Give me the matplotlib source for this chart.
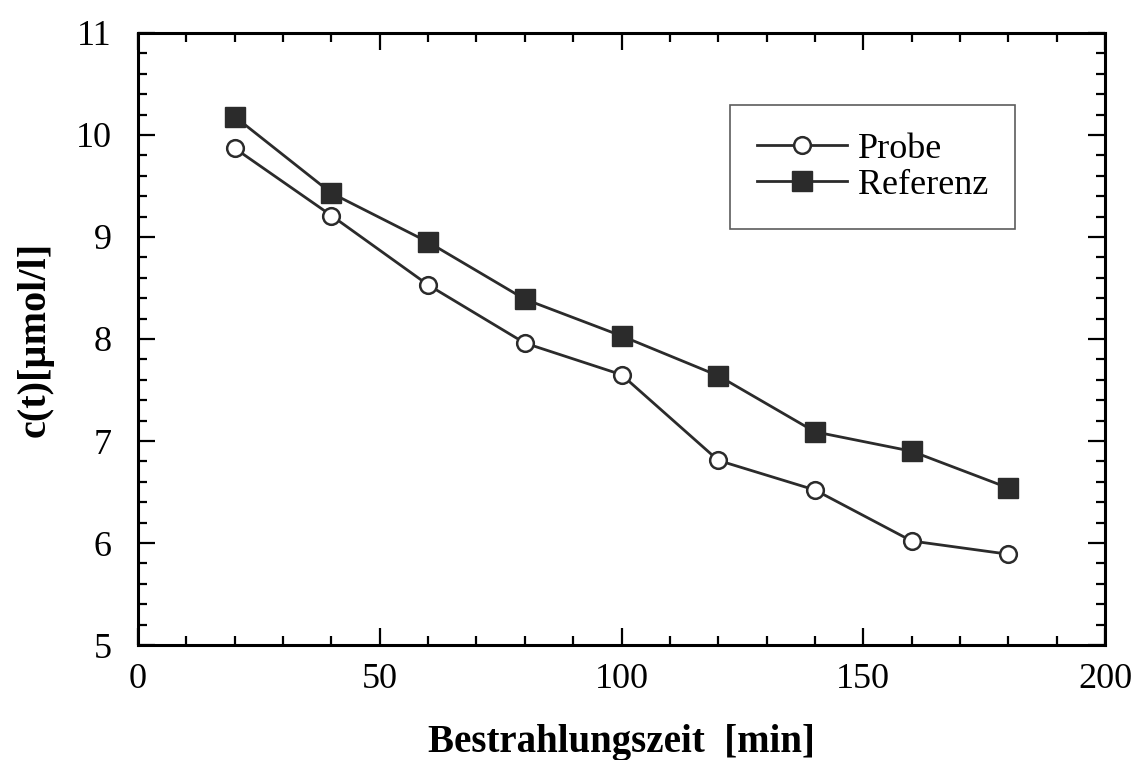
import numpy as np
import matplotlib
matplotlib.use("Agg")
import matplotlib.pyplot as plt
from matplotlib.ticker import MultipleLocator

plt.rcParams["font.family"] = ["Liberation Serif", "DejaVu Serif"]

zeit = [20, 40, 60, 80, 100, 120, 140, 160, 180]
probe = [9.87, 9.21, 8.53, 7.96, 7.65, 6.81, 6.52, 6.02, 5.89]
referenz = [10.18, 9.43, 8.95, 8.39, 8.03, 7.64, 7.09, 6.90, 6.54]

fig = plt.figure(figsize=(11.35, 7.6), dpi=100)
ax = fig.add_axes([0.1216, 0.1513, 0.852, 0.8053])

line_col = "#2b2b2b"
ax.plot(zeit, probe, color=line_col, lw=2, marker="o", ms=12,
        mfc="white", mec=line_col, mew=1.8, label="Probe")
ax.plot(zeit, referenz, color=line_col, lw=2, marker="s", ms=14,
        mfc=line_col, mec=line_col, label="Referenz")

ax.set_xlim(0, 200)
ax.set_ylim(5, 11)
ax.xaxis.set_major_locator(MultipleLocator(50))
ax.xaxis.set_minor_locator(MultipleLocator(10))
ax.yaxis.set_major_locator(MultipleLocator(1))
ax.yaxis.set_minor_locator(MultipleLocator(0.2))
ax.tick_params(which="both", direction="in", top=True, right=True,
               width=1.6, labelsize=26, color="black")
ax.tick_params(which="major", length=12)
ax.tick_params(which="minor", length=6.5)
ax.tick_params(axis="x", which="major", pad=13)
ax.tick_params(axis="y", which="major", pad=19)
for s in ax.spines.values():
    s.set_linewidth(2.2)

ax.set_xlabel("Bestrahlungszeit  [min]", fontsize=28, fontweight="bold", labelpad=20)
ax.set_ylabel("c(t)[µmol/l]", fontsize=29, fontweight="bold", labelpad=16)

leg = ax.legend(loc="upper right", bbox_to_anchor=(0.907, 0.882), fontsize=26,
                frameon=True, fancybox=False, edgecolor="#333333",
                handlelength=2.5, handletextpad=0.3, labelspacing=0.08,
                borderpad=0.75, borderaxespad=0)
leg.get_frame().set_linewidth(1.2)

fig.savefig("out.png", dpi=100)
